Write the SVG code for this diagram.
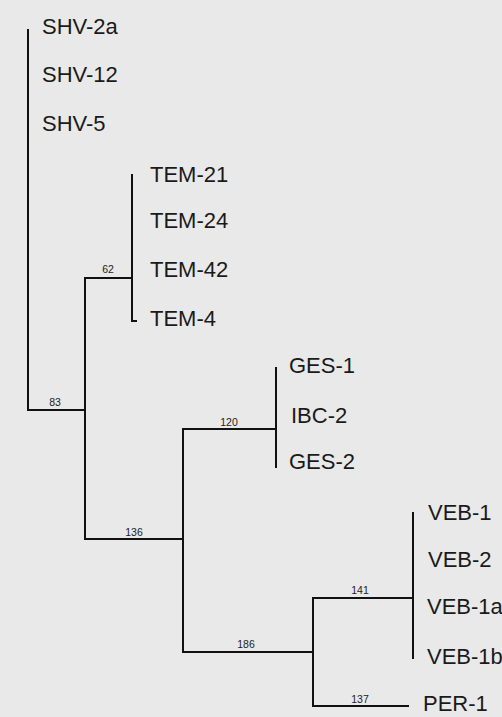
<svg xmlns="http://www.w3.org/2000/svg" width="502" height="717" viewBox="0 0 502 717">
  <style>
    .leaf { font-family: "Liberation Sans", Arial, sans-serif; font-size: 22px; fill: #1a1a1a; }
    .boot { font-family: "Liberation Sans", Arial, sans-serif; font-size: 10.5px; fill: #222; text-anchor: middle; }
    .br { fill: none; stroke: #111; stroke-width: 2; stroke-linecap: square; }
  </style>
  <rect x="0" y="0" width="502" height="717" fill="#e9e9e9"/>
  <g id="connectors">
    <path class="br" d="M28,30 V410 H85"/>
    <path class="br" d="M85,278 V539"/>
    <path class="br" d="M85,278 H132"/>
    <path class="br" d="M132,175 V321 H136"/>
    <path class="br" d="M85,539 H183"/>
    <path class="br" d="M183,429 V652"/>
    <path class="br" d="M183,429 H276"/>
    <path class="br" d="M276,368 V467"/>
    <path class="br" d="M183,652 H313"/>
    <path class="br" d="M313,598 V706"/>
    <path class="br" d="M313,598 H413"/>
    <path class="br" d="M413,513 V658"/>
    <path class="br" d="M313,706 H408"/>
  </g>
  <g id="bootstrap">
    <text class="boot" x="55" y="406">83</text>
    <text class="boot" x="108" y="273">62</text>
    <text class="boot" x="229" y="426">120</text>
    <text class="boot" x="134" y="536">136</text>
    <text class="boot" x="246" y="648">186</text>
    <text class="boot" x="360" y="594">141</text>
    <text class="boot" x="360" y="703">137</text>
  </g>
  <g id="SHV-2a"><text class="leaf" x="42" y="34">SHV-2a</text></g>
  <g id="SHV-12"><text class="leaf" x="42" y="82">SHV-12</text></g>
  <g id="SHV-5"><text class="leaf" x="42" y="131">SHV-5</text></g>
  <g id="TEM-21"><text class="leaf" x="150" y="182">TEM-21</text></g>
  <g id="TEM-24"><text class="leaf" x="150" y="228">TEM-24</text></g>
  <g id="TEM-42"><text class="leaf" x="150" y="277">TEM-42</text></g>
  <g id="TEM-4"><text class="leaf" x="150" y="326">TEM-4</text></g>
  <g id="GES-1"><text class="leaf" x="289" y="373">GES-1</text></g>
  <g id="IBC-2"><text class="leaf" x="291" y="423">IBC-2</text></g>
  <g id="GES-2"><text class="leaf" x="289" y="469">GES-2</text></g>
  <g id="VEB-1"><text class="leaf" x="428" y="520">VEB-1</text></g>
  <g id="VEB-2"><text class="leaf" x="428" y="567">VEB-2</text></g>
  <g id="VEB-1a"><text class="leaf" x="427" y="614">VEB-1a</text></g>
  <g id="VEB-1b"><text class="leaf" x="427" y="664">VEB-1b</text></g>
  <g id="PER-1"><text class="leaf" x="423" y="711">PER-1</text></g>
</svg>
